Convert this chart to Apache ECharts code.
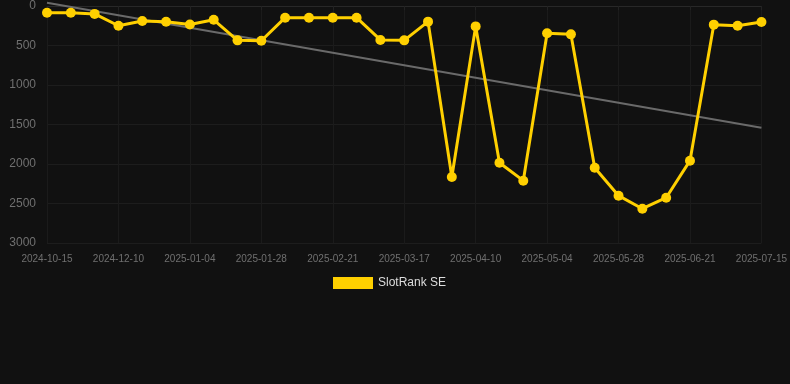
<!DOCTYPE html>
<html>
<head>
<meta charset="utf-8">
<script src="https://cdn.jsdelivr.net/npm/echarts@6/dist/echarts.min.js"></script>
<style>
html,body{margin:0;padding:0;background:#111111;}
#chart{width:790px;height:384px;}
</style>
</head>
<body>
<div id="chart"></div>
<script>
var dates = ['2024-10-15','2024-11-02','2024-11-20','2024-12-10','2024-12-18','2024-12-26','2025-01-04','2025-01-12','2025-01-20','2025-01-28','2025-02-05','2025-02-13','2025-02-21','2025-03-01','2025-03-09','2025-03-17','2025-03-25','2025-04-02','2025-04-10','2025-04-18','2025-04-26','2025-05-04','2025-05-12','2025-05-20','2025-05-28','2025-06-05','2025-06-13','2025-06-21','2025-06-29','2025-07-07','2025-07-15'];
var rankValues = [85,85,100,250,190,200,235,175,435,440,148,148,148,148,430,435,198,2165,258,1984,2211,346,359,2047,2401,2566,2427,1958,236,249,203];
var trendStart = -40;
var trendEnd = 1540;
var seriesName = 'SlotRank SE';
var yTicks = [0,500,1000,1500,2000,2500,3000];

var trendData = dates.map(function(d,i){
  if (i === 0) return trendStart;
  if (i === dates.length-1) return trendEnd;
  return null;
});

var chart = echarts.init(document.getElementById('chart'));
chart.setOption({
  backgroundColor: '#111111',
  animation: false,
  grid: {left: 47, right: 28, top: 6, bottom: 141},
  legend: {
    top: 272, left: 328,
    itemWidth: 40, itemHeight: 12, itemGap: 10,
    textStyle: {color: '#dddddd', fontSize: 12, fontFamily: 'Liberation Sans, Arial, sans-serif'},
    data: [{name: seriesName, icon: 'rect'}]
  },
  xAxis: {
    type: 'category',
    data: dates,
    boundaryGap: false,
    axisLine: {show: true, lineStyle: {color: '#282828'}},
    axisTick: {show: true, interval: 2, length: 4, lineStyle: {color: '#222222'}},
    axisLabel: {interval: 2, color: '#707070', fontSize: 10, margin: 11, fontFamily: 'Liberation Sans, Arial, sans-serif'},
    splitLine: {show: true, interval: 2, lineStyle: {color: '#1b1b1b', width: 1}}
  },
  yAxis: {
    type: 'value',
    inverse: true,
    min: yTicks[0], max: yTicks[yTicks.length-1], interval: 500,
    axisLine: {show: false},
    axisTick: {show: false},
    axisLabel: {color: '#707070', fontSize: 12, margin: 11, fontFamily: 'Liberation Sans, Arial, sans-serif',
      formatter: function(v){ return String(v); }},
    splitLine: {show: true, lineStyle: {color: '#1d1d1d', width: 1}}
  },
  series: [
    {
      name: 'trend',
      type: 'line',
      data: trendData,
      connectNulls: true,
      clip: false,
      symbol: 'none',
      lineStyle: {color: '#6a6a6a', width: 2},
      z: 1,
      silent: true
    },
    {
      name: seriesName,
      type: 'line',
      data: rankValues,
      symbol: 'circle',
      symbolSize: 10,
      clip: false,
      itemStyle: {color: '#FFD000'},
      lineStyle: {color: '#FFD000', width: 3},
      z: 2
    }
  ]
});
</script>
</body>
</html>
